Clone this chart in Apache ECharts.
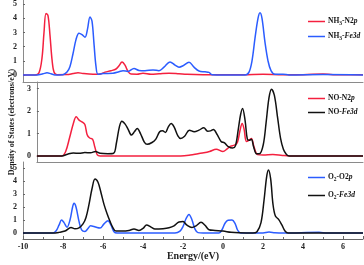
<!DOCTYPE html>
<html><head><meta charset="utf-8">
<script src="https://cdn.jsdelivr.net/npm/echarts@6/dist/echarts.min.js"></script>
<style>html,body{margin:0;padding:0;background:#fff}#c{width:364px;height:265px}</style>
</head><body><div id="c"></div>
<script>
// x tick labels (Energy, eV)
const xTicks = [-10, -8, -6, -4, -2, 0, 2, 4, 6];
const yTicks1 = [0, 1, 2, 3, 4, 5];
const yTicks2 = [0, 1, 2, 3];
const yTicks3 = [0, 1, 2, 3, 4, 5];

// Panel 1: NH3
const nh3N2p = [[-10,0],[-9.4,0],[-9.2,0.15],[-9.05,1.2],[-8.95,3.0],[-8.85,4.35],[-8.75,4.2],[-8.65,2.8],[-8.55,1.1],[-8.45,0.2],[-8.3,0.02],[-7.8,0.03],[-7.5,0.1],[-7.25,0.16],[-7.0,0.1],[-6.5,0.05],[-6.2,0.05],[-5.9,0.2],[-5.6,0.3],[-5.35,0.42],[-5.2,0.65],[-5.05,0.92],[-4.9,0.7],[-4.75,0.25],[-4.6,0.06],[-4.3,0.05],[-4.0,0.12],[-3.6,0.05],[-3.2,0.08],[-2.7,0.12],[-2.2,0.08],[-1.8,0.04],[-1.0,0.02],[0,0.02],[1,0.02],[2,0.05],[3,0.02],[4,0.02],[5.0,0.07],[5.5,0.02],[7,0.02]];
const nh3Fe3d = [[-10,0],[-9.3,0],[-9.0,0.08],[-8.8,0.15],[-8.6,0.08],[-8.4,0],[-8.0,0.02],[-7.8,0.2],[-7.65,0.6],[-7.5,1.5],[-7.35,2.5],[-7.2,2.95],[-7.05,2.85],[-6.9,2.67],[-6.78,3.2],[-6.65,4.1],[-6.55,3.8],[-6.45,2.2],[-6.35,0.6],[-6.25,0.05],[-6.0,0.1],[-5.5,0.12],[-5.2,0.22],[-5.0,0.3],[-4.75,0.25],[-4.45,0.45],[-4.2,0.32],[-3.9,0.3],[-3.5,0.35],[-3.2,0.3],[-2.95,0.55],[-2.65,0.92],[-2.4,0.7],[-2.2,0.55],[-2.0,0.65],[-1.7,0.9],[-1.45,0.55],[-1.2,0.28],[-0.9,0.22],[-0.7,0.18],[-0.55,0.02],[0,0],[1.1,0],[1.3,0.2],[1.45,1.0],[1.6,2.6],[1.75,4.0],[1.85,4.4],[1.95,4.0],[2.1,2.3],[2.25,1.0],[2.4,0.3],[2.6,0.04],[3.0,0.05],[3.3,0],[5,0.03],[7,0]];

// Panel 2: NO
const noN2p = [[-10,0],[-8.7,0],[-8.5,0.2],[-8.3,0.8],[-8.1,1.45],[-7.95,1.75],[-7.8,1.6],[-7.65,1.52],[-7.5,1.4],[-7.38,0.95],[-7.25,0.8],[-7.1,0.75],[-6.98,0.4],[-6.85,0.05],[-6.7,0],[-2.5,0],[-2.0,0.04],[-1.6,0.1],[-1.3,0.14],[-1.0,0.2],[-0.65,0.3],[-0.3,0.2],[-0.1,0.3],[0.1,0.44],[0.3,0.48],[0.45,0.6],[0.58,1.1],[0.7,1.45],[0.8,1.2],[0.92,0.65],[1.05,0.7],[1.18,0.78],[1.32,0.4],[1.5,0.06],[1.8,0.04],[2.3,0.06],[2.8,0.02],[3.2,0],[7,0]];
const noFe3d = [[-10,0],[-8.7,0],[-8.4,0.08],[-8.1,0.13],[-7.8,0.12],[-7.5,0.15],[-7.2,0.14],[-6.95,0.2],[-6.7,0.12],[-6.3,0.1],[-6.0,0.12],[-5.85,0.6],[-5.7,1.3],[-5.57,1.55],[-5.4,1.42],[-5.25,1.2],[-5.07,0.93],[-4.9,1.1],[-4.77,1.22],[-4.6,1.0],[-4.4,0.62],[-4.25,0.52],[-4.0,0.6],[-3.8,0.75],[-3.6,1.08],[-3.45,1.12],[-3.3,1.05],[-3.15,1.3],[-3.0,1.45],[-2.85,1.3],[-2.65,0.9],[-2.5,0.78],[-2.3,0.88],[-2.05,1.15],[-1.8,1.08],[-1.55,1.15],[-1.3,1.26],[-1.1,1.1],[-0.95,1.12],[-0.8,1.18],[-0.6,0.95],[-0.4,0.65],[-0.22,0.58],[0.0,0.4],[0.2,0.35],[0.35,0.45],[0.5,1.2],[0.62,1.85],[0.72,2.12],[0.85,1.6],[0.97,0.75],[1.07,0.7],[1.18,0.75],[1.3,0.4],[1.45,0.1],[1.6,0.1],[1.8,0.5],[1.95,1.5],[2.1,2.6],[2.23,2.98],[2.38,2.7],[2.55,1.7],[2.7,0.8],[2.85,0.3],[3.0,0.08],[3.15,0],[7,0]];

// Panel 3: O2
const o2O2p = [[-10,0],[-8.5,0],[-8.35,0.15],[-8.2,0.6],[-8.07,1.0],[-7.95,0.8],[-7.8,0.44],[-7.65,1.0],[-7.52,2.0],[-7.45,2.28],[-7.35,2.0],[-7.2,0.9],[-7.07,0.25],[-6.9,0.12],[-6.75,0.35],[-6.62,0.55],[-6.45,0.5],[-6.3,0.42],[-6.15,0.38],[-5.95,0.7],[-5.75,0.95],[-5.6,0.6],[-5.45,0.1],[-5.3,0],[-2.4,0],[-2.15,0.15],[-2.0,0.5],[-1.85,1.1],[-1.7,1.43],[-1.55,1.0],[-1.4,0.3],[-1.25,0.03],[-1.0,0],[-0.2,0],[-0.05,0.25],[0.1,0.75],[0.25,0.98],[0.45,1.0],[0.6,0.75],[0.72,0.25],[0.85,0.02],[1,0],[2.0,0],[2.3,0.07],[2.6,0.02],[3,0],[4.8,0.05],[5.2,0],[7,0]];
const o2Fe3d = [[-10,0],[-8.5,0],[-8.2,0.05],[-7.9,0.15],[-7.6,0.42],[-7.4,0.32],[-7.2,0.4],[-7.0,0.7],[-6.85,1.2],[-6.7,2.2],[-6.55,3.4],[-6.4,4.15],[-6.25,3.9],[-6.1,3.1],[-5.95,2.2],[-5.8,1.5],[-5.65,0.9],[-5.5,0.4],[-5.35,0.15],[-5.0,0.15],[-4.7,0.2],[-4.45,0.3],[-4.2,0.2],[-4.0,0.35],[-3.82,0.62],[-3.6,0.45],[-3.4,0.3],[-3.0,0.33],[-2.7,0.4],[-2.45,0.55],[-2.2,0.85],[-2.0,0.88],[-1.8,0.6],[-1.55,0.42],[-1.35,0.55],[-1.1,0.82],[-0.9,0.6],[-0.7,0.25],[-0.4,0.2],[0,0.15],[0.4,0.06],[0.8,0.02],[1.5,0],[1.7,0.1],[1.9,0.8],[2.05,2.5],[2.18,4.3],[2.27,4.85],[2.38,4.2],[2.5,2.2],[2.62,1.3],[2.78,1.05],[2.95,0.6],[3.1,0.15],[3.25,0],[7,0]];

const RED = '#f4203f', BLUE = '#2b5cff', BLACK = '#111111';
const FONT = '"Liberation Serif", "Times New Roman", serif';
const legendLabels = {
  'NH3-N2p': 'NH{s|3}-N2{i|p}', 'NH3-Fe3d': 'NH{s|3}-{i|Fe3d}',
  'NO-N2p': 'NO-N2{i|p}', 'NO-Fe3d': 'NO-{i|Fe3d}',
  'O2-O2p': 'O{s|2}-O2{i|p}', 'O2-Fe3d': 'O{s|2}-{i|Fe3d}'
};
const rich = {
  s: {fontSize: 5.5, fontWeight: 'bold', fontFamily: FONT, padding: [4,0,0,0], color: '#111'},
  i: {fontStyle: 'italic', fontWeight: 'bold', fontFamily: FONT, fontSize: 7.5, color: '#111'}
};
function mkLegend(names, top, gap) {
  return {data: names, orient: 'vertical', left: 303, top: top, itemWidth: 17, itemHeight: 1.5, itemGap: gap,
    icon: 'rect', selectedMode: false,
    formatter: n => legendLabels[n],
    textStyle: {fontFamily: FONT, fontSize: 7.5, fontWeight: 'bold', color: '#111', padding: [0,0,0,-2], rich: rich}};
}
const axisGray = '#8a8a8a';
function mkX(idx, showLabels) {
  return {type: 'value', gridIndex: idx, min: -10, max: 7, interval: 2,
    axisLine: {show: true, onZero: false, lineStyle: {color: showLabels ? '#666' : axisGray, width: 1}},
    axisTick: {show: showLabels, inside: true, length: 3, lineStyle: {color: '#666'}},
    minorTick: {show: showLabels, splitNumber: 2, length: 2, lineStyle: {color: '#666'}},
    axisLabel: {show: showLabels, showMaxLabel: false, margin: 4, fontFamily: FONT, fontSize: 8, fontWeight: 'bold', color: '#222'},
    splitLine: {show: false},
    name: showLabels ? 'Energy/(eV)' : '', nameLocation: 'middle', nameGap: 12,
    nameTextStyle: {fontFamily: FONT, fontSize: 10, fontWeight: 'bold', color: '#222'}};
}
function mkY(idx, min, max, ticks, name) {
  return {type: 'value', gridIndex: idx, min: min, max: max,
    axisLine: {show: true, onZero: false, lineStyle: {color: axisGray, width: 1}},
    axisTick: {show: true, inside: true, length: 2, customValues: ticks, lineStyle: {color: '#666'}},
    axisLabel: {customValues: ticks, margin: 6, fontFamily: FONT, fontSize: 8, fontWeight: 'bold', color: '#222'},
    splitLine: {show: false},
    name: name || '', nameLocation: 'middle', nameGap: 15, nameRotate: 90,
    nameTextStyle: {fontFamily: FONT, fontSize: 8, fontWeight: 'bold', color: '#222'}};
}
function mkS(name, data, color, idx) {
  return {name: name, type: 'line', xAxisIndex: idx, yAxisIndex: idx, data: data, symbol: 'none',
    smooth: 0.35, lineStyle: {color: color, width: 1.5}, itemStyle: {color: color}, z: 3};
}
const chart = echarts.init(document.getElementById('c'), null, {renderer: 'canvas'});
chart.setOption({
  animation: false,
  backgroundColor: '#fff',
  grid: [
    {left: 23, right: 1, top: 0, height: 82},
    {left: 23, right: 1, top: 82, height: 80},
    {left: 23, right: 1, top: 162, height: 77}
  ],
  xAxis: [mkX(0, false), mkX(1, false), mkX(2, true)],
  yAxis: [mkY(0, -0.5, 5.3, yTicks1), mkY(1, -0.27, 3.3, yTicks2, 'Density of States (electrons/eV)'), mkY(2, -0.46, 5.46, yTicks3)],
  legend: [
    mkLegend(['NH3-N2p', 'NH3-Fe3d'], 12.5, 6),
    mkLegend(['NO-N2p', 'NO-Fe3d'], 89.5, 6),
    mkLegend(['O2-O2p', 'O2-Fe3d'], 168.5, 9)
  ],
  series: [
    mkS('NH3-N2p', nh3N2p, RED, 0),
    mkS('NH3-Fe3d', nh3Fe3d, BLUE, 0),
    mkS('NO-N2p', noN2p, RED, 1),
    mkS('NO-Fe3d', noFe3d, BLACK, 1),
    mkS('O2-O2p', o2O2p, BLUE, 2),
    mkS('O2-Fe3d', o2Fe3d, BLACK, 2)
  ]
});
</script></body></html>
